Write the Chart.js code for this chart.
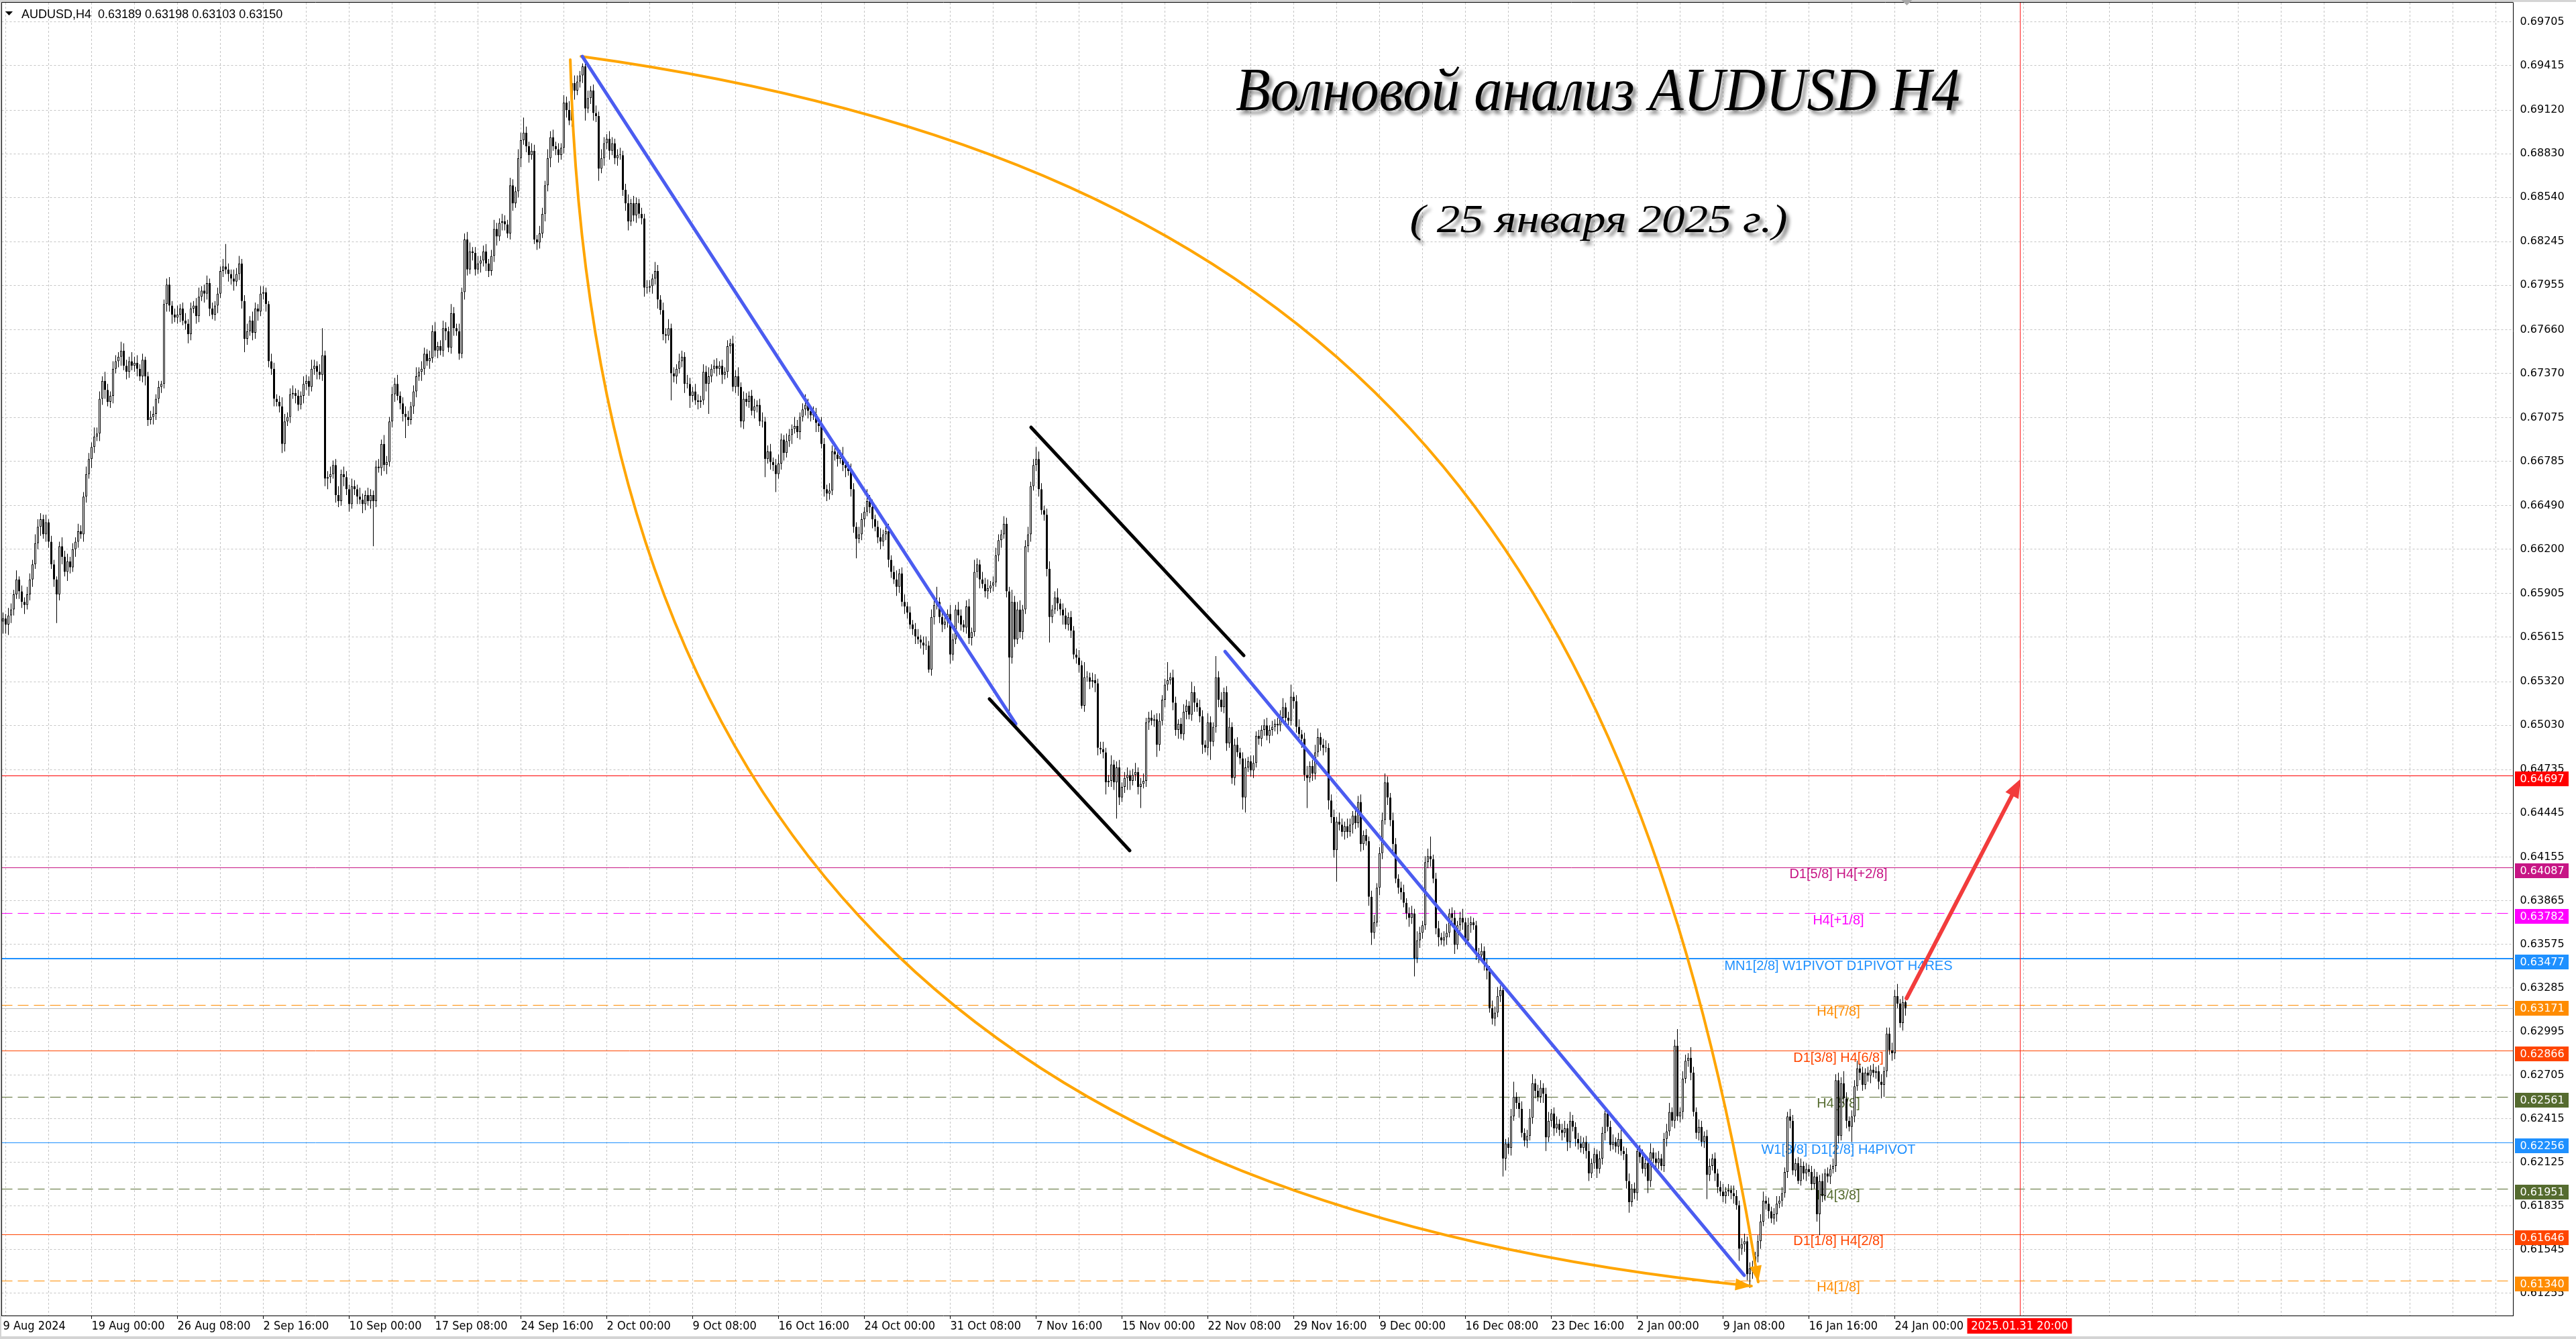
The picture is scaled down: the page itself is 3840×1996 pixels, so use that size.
<!DOCTYPE html>
<html>
<head>
<meta charset="utf-8">
<title>AUDUSD H4</title>
<script src="https://cdn.jsdelivr.net/npm/chart.js@4.4.1/dist/chart.umd.min.js"></script>
<style>
html,body{margin:0;padding:0;background:#fff;overflow:hidden;}
canvas{display:block;}
</style>
</head>
<body>
<canvas id="chart" width="3840" height="1996"></canvas>
<script>
// ================= DATA (prices in units of 0.0001) =================
const headerText = 'AUDUSD,H4  0.63189 0.63198 0.63103 0.63150';
const titleText = 'Волновой анализ AUDUSD H4';
const subtitleText = '( 25 января 2025 г.)';

const firstOpen = 6572;
const closes = [
6574,6570,6576,6580,6590,6600,6592,6585,6583,6590,
6600,6610,6624,6635,6640,6630,6638,6625,6610,6600,
6590,6622,6615,6605,6612,6608,6620,6625,6632,6630,
6655,6670,6680,6688,6695,6697,6720,6732,6726,6718,
6722,6740,6745,6748,6752,6742,6738,6745,6742,6744,
6740,6735,6746,6735,6706,6708,6710,6720,6728,6730,
6783,6796,6782,6776,6774,6776,6780,6772,6770,6763,
6780,6782,6775,6788,6792,6790,6797,6780,6776,6782,
6790,6805,6808,6806,6803,6800,6798,6803,6810,6785,
6760,6765,6772,6764,6780,6778,6790,6791,6783,6745,
6740,6720,6718,6715,6690,6705,6708,6723,6724,6722,
6716,6722,6730,6732,6728,6740,6742,6738,6736,6749,
6667,6668,6670,6676,6656,6652,6670,6668,6660,6650,
6662,6660,6655,6653,6650,6656,6652,6656,6652,6675,
6674,6690,6676,6678,6705,6723,6730,6722,6717,6710,
6708,6706,6715,6725,6735,6738,6740,6750,6745,6747,
6765,6752,6755,6752,6767,6765,6754,6777,6767,6765,
6750,6791,6826,6806,6818,6817,6806,6810,6812,6818,
6810,6805,6815,6833,6828,6837,6838,6836,6830,6862,
6850,6858,6880,6892,6897,6888,6882,6885,6826,6824,
6830,6843,6862,6880,6894,6888,6886,6882,6887,6917,
6912,6905,6930,6925,6931,6935,6941,6913,6920,6925,
6910,6908,6873,6880,6890,6893,6885,6890,6880,6882,
6882,6859,6850,6838,6850,6842,6850,6843,6840,6794,
6794,6795,6800,6805,6786,6779,6763,6762,6767,6737,
6735,6740,6745,6748,6730,6730,6722,6725,6719,6718,
6719,6738,6730,6735,6740,6742,6740,6742,6736,6738,
6755,6757,6728,6735,6728,6705,6720,6718,6722,6712,
6715,6716,6705,6705,6680,6685,6678,6676,6670,6677,
6693,6684,6692,6696,6700,6702,6698,6708,6713,6716,
6712,6709,6710,6704,6702,6690,6660,6657,6659,6685,
6683,6680,6682,6676,6674,6672,6660,6635,6627,6630,
6640,6645,6652,6648,6640,6635,6628,6625,6630,6632,
6613,6605,6600,6595,6604,6585,6582,6578,6570,6567,
6562,6560,6558,6556,6556,6540,6575,6583,6585,6575,
6570,6572,6577,6550,6560,6580,6576,6570,6568,6582,
6561,6565,6605,6610,6600,6597,6592,6594,6596,6598,
6616,6626,6630,6637,6592,6548,6585,6560,6580,6565,
6580,6622,6630,6662,6676,6680,6660,6646,6643,6607,
6575,6580,6588,6584,6580,6576,6570,6575,6566,6550,
6548,6543,6516,6535,6535,6532,6533,6531,6488,6487,
6485,6465,6466,6477,6465,6475,6455,6462,6468,6470,
6466,6470,6472,6462,6464,6466,6505,6508,6506,6507,
6490,6506,6520,6530,6533,6535,6518,6500,6504,6497,
6512,6516,6510,6525,6518,6515,6509,6490,6488,6505,
6492,6502,6535,6520,6515,6525,6491,6502,6468,6490,
6485,6481,6455,6475,6479,6473,6478,6496,6494,6500,
6503,6496,6500,6502,6504,6503,6508,6515,6508,6506,
6522,6519,6502,6497,6494,6470,6468,6476,6471,6485,
6495,6490,6488,6488,6453,6442,6420,6439,6437,6432,
6436,6432,6437,6443,6438,6452,6424,6430,6426,6389,
6365,6372,6395,6418,6440,6465,6455,6440,6424,6401,
6395,6392,6385,6378,6375,6378,6348,6360,6365,6370,
6412,6416,6414,6401,6368,6362,6360,6362,6365,6378,
6375,6357,6370,6375,6372,6360,6370,6372,6370,6351,
6350,6353,6344,6340,6315,6308,6312,6323,6327,6215,
6225,6222,6243,6256,6252,6248,6232,6227,6230,6242,
6265,6260,6256,6262,6258,6229,6240,6245,6235,6238,
6234,6232,6235,6226,6240,6236,6228,6225,6222,6226,
6220,6205,6212,6218,6208,6215,6232,6245,6236,6224,
6226,6223,6228,6220,6218,6200,6186,6195,6192,6220,
6216,6208,6212,6200,6219,6215,6212,6215,6210,6228,
6233,6246,6240,6290,6243,6246,6268,6280,6282,6272,
6246,6232,6236,6226,6230,6204,6210,6215,6205,6196,
6193,6190,6193,6194,6192,6190,6184,6155,6158,6160,
6138,6142,6140,6150,6160,6173,6187,6185,6180,6175,
6178,6185,6187,6192,6206,6243,6240,6207,6212,6200,
6210,6205,6208,6206,6198,6203,6178,6200,6190,6205,
6203,6208,6210,6267,6230,6265,6255,6240,6236,6243,
6263,6275,6272,6264,6272,6270,6274,6272,6273,6266,
6264,6273,6298,6287,6285,6323,6318,6305,6319,6315
];
const wickUp = [
4,3,5,4,3,6,2,4,3,5, 4,3,6,5,4,3,5,2,4,3, 2,3,6,4,5,3,4,3,5,4, 3,5,4,3,6,4,5,3,6,4,
3,5,4,3,6,5,4,3,6,4, 5,3,4,2,3,4,5,3,4,2, 3,4,5,3,4,6,3,4,5,3, 4,3,5,6,3,4,5,3,4,3,
4,3,5,15,4,3,6,4,5,3, 4,5,3,6,4,3,5,4,3,2, 5,4,3,4,6,5,3,4,5,3, 4,3,5,4,3,6,4,3,5,18,
3,4,5,3,4,6,3,5,4,3, 5,4,3,6,4,3,5,4,3,4, 5,3,6,4,3,5,4,6,3,4, 5,4,3,4,6,3,5,4,3,5,
4,6,3,4,5,4,3,6,4,3, 5,3,4,5,6,3,4,5,3,4, 5,3,4,6,4,3,5,4,3,5, 4,3,6,5,10,4,3,5,4,3,
5,4,3,6,4,5,3,4,3,5, 4,6,3,5,4,3,2,4,5,3, 4,5,3,6,4,3,5,4,3,4, 5,3,4,6,3,5,4,3,4,3,
5,4,3,6,4,3,5,4,6,3, 4,3,5,4,3,6,4,3,5,4, 3,5,4,6,3,4,5,3,4,3, 4,3,5,4,6,3,5,4,3,4,
5,3,4,6,3,4,5,3,4,6, 4,3,5,4,3,6,4,3,4,7, 4,3,5,4,3,6,4,3,5,4, 3,5,4,6,3,4,5,4,3,5,
4,3,8,4,5,3,4,6,3,4, 5,3,4,6,3,4,5,3,4,3, 4,5,3,4,6,3,5,4,10,3, 4,5,3,6,4,3,5,4,3,4,
5,3,8,4,3,5,4,6,3,4, 5,4,3,5,4,3,8,4,5,6, 3,4,5,3,4,8,5,4,3,4, 5,3,4,6,3,4,5,3,4,3,
4,5,3,10,4,3,5,4,3,4, 5,3,4,6,3,4,5,3,4,5, 3,4,6,3,4,5,3,4,5,3, 4,5,3,4,12,3,5,4,3,4,
5,4,3,7,4,3,5,4,3,6, 4,3,14,4,5,3,4,6,3,4, 5,3,4,6,3,4,5,3,4,3, 4,5,3,4,3,4,5,6,3,4,
8,3,4,5,3,4,6,3,4,5, 6,3,4,5,3,4,5,3,6,4, 3,5,4,3,6,4,5,3,4,3, 4,5,3,4,5,6,4,3,5,4,
3,4,5,3,4,5,3,6,4,3, 4,5,13,3,4,5,3,4,6,3, 4,5,3,4,6,3,5,4,3,3, 4,5,3,4,3,5,4,6,3,4,
3,4,5,10,3,4,5,3,4,6, 6,3,4,5,3,4,6,3,4,5, 3,4,5,3,6,4,3,4,5,3, 4,5,3,4,3,5,4,2,3,4,
5,3,4,6,3,4,5,3,4,3, 4,5,3,4,6,3,4,5,3,4, 5,6,3,4,11,3,5,4,3,7, 4,3,5,4,3,4,5,3,4,3,
4,5,3,4,3,5,4,3,4,5, 3,4,5,3,4,5,6,3,4,3, 4,5,3,4,3,3,5,4,3,4, 5,3,4,3,4,5,3,4,5,3,
4,3,5,4,5,4,8,4,3,4, 4,5,3,4,3,4,3,4,3,4, 5,3,4,4,5,4,8,3,4,1
];
const wickDn = [
8,6,7,5,4,3,5,4,6,3, 4,5,3,4,6,3,5,4,3,5, 19,4,5,3,6,4,3,5,4,3, 5,4,3,6,4,3,5,4,6,3,
4,5,3,4,6,3,5,4,3,4, 5,3,4,6,4,3,5,4,3,4, 3,5,4,6,3,4,5,3,4,6, 4,3,5,4,3,6,4,5,3,4,
5,3,4,3,5,4,6,3,4,5, 9,4,3,5,4,6,3,4,5,4, 4,5,3,4,6,5,3,4,3,5, 4,3,5,4,6,3,4,5,3,4,
5,7,4,3,5,4,3,6,4,5, 3,4,5,3,6,4,3,5,30,4, 3,5,4,6,3,4,5,3,4,5, 14,4,3,5,4,3,6,4,3,5,
3,4,5,3,4,6,3,4,5,3, 4,3,5,4,3,5,4,3,6,4, 5,4,3,4,6,3,5,4,3,4, 5,3,4,6,3,4,5,3,3,5,
4,3,5,4,6,3,4,5,3,4, 5,3,4,6,3,4,5,8,3,4, 5,4,8,3,5,4,6,3,4,5, 3,4,5,6,3,4,5,3,4,6,
4,3,5,4,6,3,4,5,3,18, 4,5,3,4,6,3,8,4,3,5, 4,3,5,20,4,3,5,4,6,3, 4,5,3,4,6,4,5,3,4,3,
5,4,3,4,12,3,5,4,12,3, 4,5,3,4,6,3,4,5,3,4, 5,4,3,6,4,3,5,5,4,3, 4,5,3,4,6,3,5,4,13,3,
4,5,3,4,6,3,4,5,3,4, 5,4,3,6,4,3,5,4,3,4, 5,3,4,6,3,2,4,5,3,4, 5,3,4,6,4,3,5,4,3,4,
4,5,3,4,6,3,4,5,3,4, 3,4,5,3,4,36,4,5,3,4, 5,3,4,5,3,4,5,3,4,5, 17,4,3,5,4,6,3,4,5,3,
4,5,2,4,3,5,4,6,5,3, 4,8,3,4,5,24,5,3,4,8, 6,3,4,5,14,3,4,5,3,4, 8,4,3,5,4,3,5,4,6,3,
4,5,3,4,6,3,4,6,3,5, 12,3,4,5,3,4,5,3,4,5, 3,4,8,10,3,4,5,3,4,5, 4,3,5,4,3,6,4,3,5,4,
3,5,4,3,6,4,20,3,5,4, 3,4,5,3,6,4,5,21,4,3, 5,4,3,6,4,3,5,4,3,6, 8,4,3,5,4,3,5,4,6,3,
4,5,3,4,6,4,12,3,5,4, 3,4,5,3,4,6,3,4,5,3, 4,6,3,4,5,3,4,5,3,4, 5,3,4,6,3,4,5,3,4,12,
8,4,5,3,4,6,3,4,5,3, 4,5,3,4,6,9,3,4,5,3, 4,5,3,6,4,3,5,4,3,4, 5,5,3,4,6,3,4,5,3,4,
3,4,5,3,4,5,7,3,4,5, 4,3,5,8,4,3,5,4,3,4, 5,3,4,5,3,4,5,3,4,5, 3,4,5,3,4,16,4,3,5,4,
3,4,5,3,4,5,3,8,4,5, 4,9,5,3,4,5,3,4,5,3, 4,5,3,4,3,4,5,3,4,2, 3,4,5,3,4,3,5,14,4,3,
4,5,3,4,5,3,4,5,3,10, 4,3,5,4,3,4,5,3,4,5, 9,8,4,3,5,4,3,3,5,5
];
const futureSlots = 226;

const timeLabelBars = [0,33,65,97,129,161,193,225,257,289,321,353,385,417,449,481,513,545,577,609,641,673,705];
const timeLabels = ['9 Aug 2024','19 Aug 00:00','26 Aug 08:00','2 Sep 16:00','10 Sep 00:00','17 Sep 08:00',
  '24 Sep 16:00','2 Oct 00:00','9 Oct 08:00','16 Oct 16:00','24 Oct 00:00','31 Oct 08:00','7 Nov 16:00',
  '15 Nov 00:00','22 Nov 08:00','29 Nov 16:00','9 Dec 00:00','16 Dec 08:00','23 Dec 16:00','2 Jan 00:00',
  '9 Jan 08:00','16 Jan 16:00','24 Jan 00:00'];

const priceTicks = [0.69705,0.69415,0.69120,0.68830,0.68540,0.68245,0.67955,0.67660,0.67370,0.67075,
  0.66785,0.66490,0.66200,0.65905,0.65615,0.65320,0.65030,0.64735,0.64445,0.64155,0.63865,0.63575,
  0.63285,0.62995,0.62705,0.62415,0.62125,0.61835,0.61545,0.61255];
const priceMin = 0.61106, priceMax = 0.69834;

const levelPrices = [0.64697,0.64087,0.63782,0.63477,0.63171,0.62866,0.62561,0.62256,0.61951,0.61646,0.61340];
const levelTexts = ['','D1[5/8] H4[+2/8]','H4[+1/8]','MN1[2/8] W1PIVOT D1PIVOT H4RES','H4[7/8]',
  'D1[3/8] H4[6/8]','H4[5/8]','W1[3/8] D1[2/8] H4PIVOT','H4[3/8]','D1[1/8] H4[2/8]','H4[1/8]'];
const bidPrice = 0.63150;
const markerBar = 751.5;
const markerLabel = '2025.01.31 20:00';
const textAnchorBar = 684;

// drawn objects, anchored in (bar index, price)
const outerArc = [[215.4,0.69477],[499.4,0.68781],[609.4,0.66284],[654.1,0.61329]];
const innerArc = [[211.4,0.69455],[219.4,0.64277],[361.9,0.61824],[651.6,0.61302]];
const blueLines = [[[215.9,0.69477],[377.4,0.65040]], [[455.4,0.65521],[648.9,0.61373]]];
const blackLines = [[[383.1,0.67011],[462.4,0.65494]], [[367.6,0.65205],[419.9,0.64197]]];
const redArrow = [[709.4,0.63215],[751.9,0.64674]];

// ================= STYLES =================
const levelStyles = [
  {color:'#FF0000', dash:[], width:1},
  {color:'#C71585', dash:[], width:1},
  {color:'#FF00FF', dash:[16,8], width:1},
  {color:'#1E90FF', dash:[], width:2},
  {color:'#FF8C00', dash:[16,8], width:1},
  {color:'#FF4500', dash:[], width:1},
  {color:'#556B2F', dash:[16,8], width:1},
  {color:'#1E90FF', dash:[], width:1},
  {color:'#556B2F', dash:[16,8], width:1},
  {color:'#FF4500', dash:[], width:1},
  {color:'#FF8C00', dash:[16,8], width:1}
];

function hasFont(name) {
  const c = document.createElement('canvas').getContext('2d');
  const s = 'mmmmmwwwwiiii0123456789';
  c.font = '40px monospace'; const a = c.measureText(s).width;
  c.font = '40px "' + name + '", monospace'; const b = c.measureText(s).width;
  return Math.abs(a - b) > 0.5;
}
let timeFont;
if (hasFont('Liberation Sans Narrow')) timeFont = {family: "'Liberation Sans Narrow'", size: 22};
else if (hasFont('DejaVu Sans Condensed')) timeFont = {family: "'DejaVu Sans Condensed'", size: 18};
else timeFont = {family: "'Liberation Sans', Arial, sans-serif", size: 19};
const timeFontStr = timeFont.size + 'px ' + timeFont.family;
const priceFont = {family: "'DejaVu Sans', Verdana, sans-serif", size: 16};
const priceFontStr = '16px ' + priceFont.family;

// ================= BUILD =================
const N = closes.length;
const opens = closes.map((c, i) => i === 0 ? firstOpen : closes[i - 1]);
const U = v => v / 10000;
const bodies = closes.map((c, i) => [U(opens[i]), U(c)]);
const wicks = closes.map((c, i) => [U(Math.min(opens[i], c) - wickDn[i]), U(Math.max(opens[i], c) + wickUp[i])]);
const slotLabels = Array.from({length: N + futureSlots}, () => '');
timeLabelBars.forEach((b, k) => { slotLabels[b] = timeLabels[k]; });
const tickBars = new Set(timeLabelBars.filter(b => b > 0));

function arrowHead(ctx, tip, from, len, half, color) {
  const dx = tip[0] - from[0], dy = tip[1] - from[1];
  const L = Math.hypot(dx, dy) || 1, ux = dx / L, uy = dy / L;
  const bx = tip[0] - ux * len, by = tip[1] - uy * len;
  ctx.beginPath();
  ctx.moveTo(tip[0], tip[1]);
  ctx.lineTo(bx - uy * half, by + ux * half);
  ctx.lineTo(bx + uy * half, by - ux * half);
  ctx.closePath();
  ctx.fillStyle = color; ctx.fill();
}
function drawTitle(ctx, text, font, cx, baseY, targetW) {
  ctx.save();
  ctx.font = font;
  const w = ctx.measureText(text).width;
  ctx.translate(cx, baseY);
  ctx.scale(targetW / w, 1);
  ctx.shadowColor = 'rgba(0,0,0,0.45)';
  ctx.shadowOffsetX = 5; ctx.shadowOffsetY = 6; ctx.shadowBlur = 5;
  ctx.fillStyle = '#000'; ctx.textAlign = 'center'; ctx.textBaseline = 'alphabetic';
  ctx.fillText(text, 0, 0);
  ctx.restore();
}

const overlay = {
  id: 'overlay',
  beforeDraw(chart) {
    const {ctx, width, height} = chart;
    ctx.save();
    ctx.fillStyle = '#ffffff'; ctx.fillRect(0, 0, width, height);
    ctx.fillStyle = '#d4d4d4';
    ctx.fillRect(0, 0, width, 3);
    ctx.fillRect(0, 0, 2, height);
    ctx.fillRect(0, height - 4, width, 4);
    ctx.restore();
  },
  beforeDatasetsDraw(chart) {
    const {ctx, chartArea: a, scales: {x, y}} = chart;
    ctx.save();
    ctx.beginPath(); ctx.rect(a.left, a.top, a.right - a.left, a.bottom - a.top); ctx.clip();
    const yb = Math.round(y.getPixelForValue(bidPrice)) + 0.5;
    ctx.strokeStyle = '#c0c0c0'; ctx.lineWidth = 1; ctx.setLineDash([]);
    ctx.beginPath(); ctx.moveTo(a.left, yb); ctx.lineTo(a.right, yb); ctx.stroke();
    levelPrices.forEach((p, i) => {
      const st = levelStyles[i];
      const raw = Math.round(y.getPixelForValue(p));
      const yy = st.width % 2 ? raw + 0.5 : raw;
      ctx.strokeStyle = st.color; ctx.lineWidth = st.width; ctx.setLineDash(st.dash);
      ctx.beginPath(); ctx.moveTo(a.left, yy); ctx.lineTo(a.right, yy); ctx.stroke();
    });
    ctx.setLineDash([]);
    ctx.font = "20px 'Liberation Sans', Arial, sans-serif";
    ctx.textAlign = 'center'; ctx.textBaseline = 'middle';
    const tx = x.getPixelForValue(textAnchorBar);
    levelPrices.forEach((p, i) => {
      if (!levelTexts[i]) return;
      ctx.fillStyle = levelStyles[i].color;
      ctx.fillText(levelTexts[i], tx, y.getPixelForValue(p) + 11);
    });
    const xm = Math.round(x.getPixelForValue(markerBar)) + 0.5;
    ctx.strokeStyle = '#ff2020'; ctx.lineWidth = 1;
    ctx.beginPath(); ctx.moveTo(xm, a.top); ctx.lineTo(xm, a.bottom); ctx.stroke();
    ctx.restore();
  },
  afterDatasetsDraw(chart) {
    const {ctx, chartArea: a, scales: {x, y}} = chart;
    const P = pt => [x.getPixelForValue(pt[0]), y.getPixelForValue(pt[1])];
    ctx.save();
    ctx.beginPath(); ctx.rect(a.left, a.top, a.right - a.left, a.bottom - a.top); ctx.clip();
    ctx.lineCap = 'round'; ctx.lineJoin = 'round';
    [outerArc, innerArc].forEach(arc => {
      const [p0, p1, p2, p3] = arc.map(P);
      ctx.strokeStyle = '#FFA500'; ctx.lineWidth = 4;
      ctx.beginPath(); ctx.moveTo(p0[0], p0[1]);
      ctx.bezierCurveTo(p1[0], p1[1], p2[0], p2[1], p3[0], p3[1]);
      ctx.stroke();
      arrowHead(ctx, p3, p2, 24, 9, '#FFA500');
    });
    ctx.strokeStyle = '#4B5CF0'; ctx.lineWidth = 5;
    blueLines.forEach(l => {
      const [s, e] = l.map(P);
      ctx.beginPath(); ctx.moveTo(s[0], s[1]); ctx.lineTo(e[0], e[1]); ctx.stroke();
    });
    ctx.strokeStyle = '#000000'; ctx.lineWidth = 5;
    blackLines.forEach(l => {
      const [s, e] = l.map(P);
      ctx.beginPath(); ctx.moveTo(s[0], s[1]); ctx.lineTo(e[0], e[1]); ctx.stroke();
    });
    const [rs, re] = redArrow.map(P);
    const L = Math.hypot(re[0] - rs[0], re[1] - rs[1]);
    const k = (L - 18) / L;
    ctx.strokeStyle = '#F23C3C'; ctx.lineWidth = 6;
    ctx.beginPath(); ctx.moveTo(rs[0], rs[1]);
    ctx.lineTo(rs[0] + (re[0] - rs[0]) * k, rs[1] + (re[1] - rs[1]) * k); ctx.stroke();
    arrowHead(ctx, re, rs, 28, 11, '#F23C3C');
    ctx.restore();
    // frame
    ctx.save();
    ctx.strokeStyle = '#000'; ctx.lineWidth = 1;
    ctx.beginPath();
    ctx.moveTo(a.left, a.bottom); ctx.lineTo(a.left, a.top - 0.5); ctx.lineTo(a.right, a.top - 0.5);
    ctx.stroke();
    ctx.restore();
  },
  afterDraw(chart) {
    const {ctx, chartArea: a, scales: {x, y}} = chart;
    ctx.save();
    // price boxes
    ctx.font = priceFontStr; ctx.textAlign = 'left'; ctx.textBaseline = 'middle';
    levelPrices.forEach((p, i) => {
      const yy = Math.round(y.getPixelForValue(p));
      ctx.fillStyle = levelStyles[i].color;
      ctx.fillRect(a.right + 2.5, yy - 6, 80, 22);
      ctx.fillStyle = '#ffffff';
      ctx.fillText(p.toFixed(5), a.right + 10, yy + 5.5);
    });
    // time marker box
    const xm = x.getPixelForValue(markerBar);
    ctx.font = timeFontStr; ctx.textAlign = 'center'; ctx.textBaseline = 'middle';
    ctx.fillStyle = '#ff0000';
    ctx.fillRect(xm - 78, a.bottom + 4, 156, 23);
    ctx.fillStyle = '#ffffff';
    ctx.fillText(markerLabel, xm, a.bottom + 16);
    // header
    ctx.fillStyle = '#000';
    ctx.beginPath(); ctx.moveTo(8, 17); ctx.lineTo(19, 17); ctx.lineTo(13.5, 23); ctx.closePath(); ctx.fill();
    ctx.font = "18px 'Liberation Sans', Arial, sans-serif";
    ctx.textAlign = 'left'; ctx.textBaseline = 'alphabetic';
    ctx.fillText(headerText, 32, 27);
    // shift marker
    const xs = x.getPixelForValue(N - 1) + 2;
    ctx.fillStyle = '#a8a8a8';
    ctx.beginPath(); ctx.moveTo(xs - 8, 0); ctx.lineTo(xs + 8, 0); ctx.lineTo(xs, 8); ctx.closePath(); ctx.fill();
    ctx.restore();
    // titles
    drawTitle(ctx, titleText, "italic 92px 'Liberation Serif', 'DejaVu Serif', serif", 2382, 164, 1080);
    drawTitle(ctx, subtitleText, "italic 60px 'Liberation Serif', 'DejaVu Serif', serif", 2383, 346, 563);
  }
};

new Chart(document.getElementById('chart'), {
  type: 'bar',
  data: {
    labels: slotLabels,
    datasets: [
      {label: 'wick', data: wicks, backgroundColor: '#000', borderWidth: 0, barThickness: 1,
       grouped: false, order: 2, inflateAmount: 0},
      {label: 'body', data: bodies,
       backgroundColor: c => (closes[c.dataIndex] >= opens[c.dataIndex] ? '#ffffff' : '#000000'),
       borderColor: '#000', borderWidth: 1, borderSkipped: false, barThickness: 3, minBarLength: 1,
       grouped: false, order: 1, inflateAmount: 0}
    ]
  },
  options: {
    responsive: false, maintainAspectRatio: false, animation: false, devicePixelRatio: 1, events: [],
    layout: {padding: {left: 2.5, top: 4, right: 0, bottom: 0}},
    plugins: {legend: {display: false}, tooltip: {enabled: false}},
    scales: {
      x: {
        type: 'category', offset: true,
        grid: {
          offset: false, color: '#c4c4c4',
          lineWidth: c => ((c.index - 1) % 16 === 0 ? 1 : 0),
          drawTicks: true, tickLength: 5, tickColor: '#000',
          tickWidth: c => (tickBars.has(c.index) ? 1 : 0), tickBorderDash: []
        },
        border: {display: true, color: '#000', width: 1, dash: [3, 3]},
        ticks: {autoSkip: false, maxRotation: 0, minRotation: 0, align: 'start', padding: 1,
                font: timeFont, color: '#000'},
        afterFit(s) { s.height = 35; s.paddingLeft = 0; s.paddingRight = 0; }
      },
      y: {
        type: 'linear', position: 'right', min: priceMin, max: priceMax,
        afterBuildTicks(s) { s.ticks = priceTicks.map(v => ({value: v})); },
        grid: {color: '#c4c4c4', lineWidth: 1, drawTicks: false},
        border: {display: true, color: '#000', width: 1, dash: [3, 3]},
        ticks: {padding: 10, font: priceFont, color: '#000', callback: v => Number(v).toFixed(5)},
        afterFit(s) { s.width = 93.5; s.paddingTop = 0; s.paddingBottom = 0; }
      }
    }
  },
  plugins: [overlay]
});
</script>
</body>
</html>
